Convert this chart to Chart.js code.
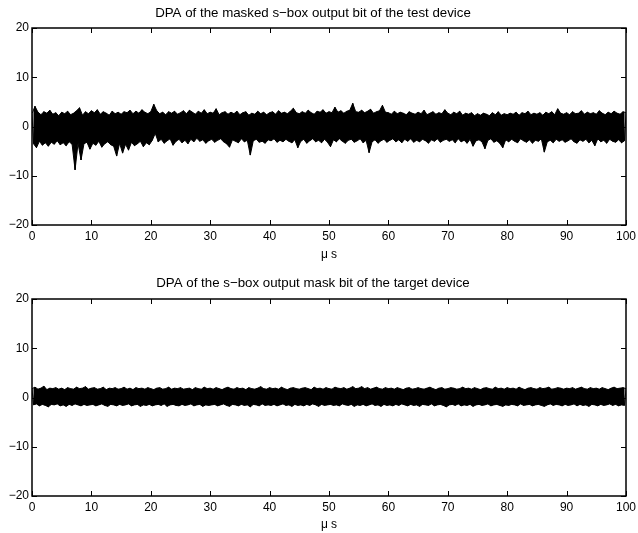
<!DOCTYPE html>
<html>
<head>
<meta charset="utf-8">
<script src="https://cdn.jsdelivr.net/npm/chart.js@4/dist/chart.umd.min.js"></script>
<style>
  html, body { margin: 0; padding: 0; background: #fff; }
  body { width: 638px; height: 533px; position: relative; overflow: hidden; }
  .panel { position: absolute; left: 0; width: 638px; }
</style>
</head>
<body>
<div class="panel" style="top:0;height:266px"><canvas id="top" width="638" height="266"></canvas></div>
<div class="panel" style="top:266px;height:267px"><canvas id="bottom" width="638" height="267"></canvas></div>
<script>
// Sampling step of the envelope readings (µs)
const sampleStep = 0.5;

const timeTicks = [0, 10, 20, 30, 40, 50, 60, 70, 80, 90, 100];
const ampTicks = [-20, -10, 0, 10, 20];

const titleTop = 'DPA of the masked s\u2212box output bit of the test device';
const titleBottom = 'DPA of the s\u2212box output mask bit of the target device';
const xLabel = '\u03bc s';

// Test device: positive and negative peaks of the DPA trace, every 0.5 µs
const testPeaksHigh = [
  2.6, 4.1, 2.9, 2.4, 3.0, 2.7, 3.3, 2.5, 2.8, 2.2,
  2.9, 2.6, 3.1, 2.4, 2.7, 3.2, 3.8, 2.3, 3.0, 2.6,
  3.2, 2.8, 3.4, 2.5, 3.0, 2.7, 2.3, 3.1, 2.6, 2.9,
  2.5, 3.0, 2.8, 3.3, 2.6, 3.1, 2.7, 3.4, 2.9, 2.6,
  3.0, 4.5, 3.2, 2.6, 2.9, 2.4, 3.0, 2.7, 3.1, 2.5,
  2.8, 3.2, 2.6, 3.3, 2.9, 2.5, 3.1, 2.7, 3.4, 2.6,
  2.9, 2.7, 3.6, 2.4, 2.8, 3.0, 2.5, 2.9, 2.6, 3.1,
  2.4, 2.8, 3.0, 2.3, 2.7, 2.5, 3.1, 2.6, 2.9, 2.4,
  2.8, 3.0, 2.5, 3.2, 2.7, 2.9, 2.6, 3.1, 3.7, 2.8,
  2.6, 3.0, 2.7, 3.3, 2.8, 2.5, 3.1, 2.9, 3.4, 2.7,
  3.0, 2.8, 3.9, 2.9, 3.2, 2.7, 3.1, 3.3, 4.7, 3.0,
  2.9, 3.3, 2.8, 3.1, 3.5, 2.7, 3.0, 3.2, 4.3, 2.9,
  2.8, 2.5, 3.1, 2.6, 2.9, 2.7, 2.4, 3.0, 2.7, 2.5,
  2.9, 2.6, 3.3, 2.4, 2.7, 3.0, 2.5, 2.8, 2.6, 3.4,
  2.7, 2.4, 2.9, 2.6, 3.1, 2.3, 2.7, 2.5, 2.8, 2.2,
  2.6, 2.3, 2.7, 2.5, 2.2, 2.8, 2.4, 3.0, 2.3, 2.6,
  2.4, 2.7, 2.5, 2.9, 2.3, 2.8, 2.6, 3.1, 2.4, 2.7,
  2.5, 2.8, 2.3, 2.9, 2.6, 3.0, 2.4, 3.6, 2.7, 2.5,
  2.8, 2.4, 3.0, 2.6, 2.7, 3.2, 2.5, 2.9, 2.6, 2.8,
  2.5, 3.2, 2.7, 2.4, 2.9, 2.6, 3.1, 2.7, 2.5, 3.0,
  2.8
];
const testPeaksLow = [
  -3.5, -4.3, -3.0, -3.8, -3.3, -4.0, -3.2, -3.6, -2.9, -3.7,
  -3.3, -3.9, -3.1, -3.6, -8.8, -3.4, -6.8, -3.5, -3.2, -4.6,
  -3.4, -3.8, -3.0, -4.2, -3.5, -3.1, -3.7, -4.0, -6.0, -3.4,
  -5.4, -3.6, -4.8, -3.2, -3.9, -3.5, -3.0, -4.1, -3.3, -3.7,
  -2.8, -1.4, -3.1, -2.6, -3.4, -2.9, -2.5, -3.8, -3.0, -2.6,
  -3.3, -2.8, -3.5, -2.6, -3.1, -2.4, -3.0, -2.7, -3.4, -2.9,
  -2.6, -3.2, -2.8, -2.5, -3.1, -3.5, -4.2, -2.7, -3.0, -3.3,
  -2.5, -3.1, -2.8, -5.8, -2.9, -2.6, -3.2, -3.0, -3.4, -2.7,
  -2.9, -2.5, -3.2, -2.8, -3.1, -2.6, -3.0, -3.3, -2.7, -4.3,
  -3.0, -2.6, -3.4, -2.9, -2.5, -3.1, -2.8, -3.3, -2.6, -3.2,
  -4.1, -2.7, -3.1, -2.5, -3.0, -3.4, -2.8, -2.6, -3.2, -2.9,
  -2.5, -3.3, -2.8, -5.3, -3.1, -2.7, -3.4, -2.9, -2.6, -3.2,
  -2.8, -2.5, -3.1, -2.7, -3.3, -2.6, -3.0, -2.5, -3.2, -2.8,
  -3.1, -2.6, -2.9, -3.4, -2.7, -3.0, -2.5, -3.2, -2.8, -2.6,
  -3.0, -2.7, -3.3, -2.5, -3.1, -2.8, -3.4, -2.6, -4.0, -2.9,
  -2.7, -3.1, -4.5, -2.8, -2.5, -3.2, -2.9, -3.4, -4.3, -2.7,
  -3.1, -2.6, -3.0, -3.3, -2.5, -2.9, -3.2, -2.7, -3.4, -2.8,
  -3.0, -2.5, -5.2, -3.1, -2.8, -3.3, -2.6, -3.0, -2.7, -3.2,
  -2.9, -2.5, -3.1, -3.4, -2.7, -3.0, -2.6, -3.3, -2.8, -3.9,
  -2.5, -3.1, -2.8, -3.4, -2.6, -3.0, -3.2, -2.7, -3.3, -2.9,
  -3.1
];

// Target device (mask bit): positive and negative peaks, every 0.5 µs
const targetPeaksHigh = [
  1.8, 2.1, 1.7, 1.9, 2.3, 1.6, 1.9, 1.8, 2.0, 1.7,
  1.9, 1.6, 2.0, 1.8, 1.7, 2.1, 1.8, 1.9, 2.2, 1.7,
  1.9, 2.0, 1.7, 1.8, 2.1, 1.6, 1.9, 1.8, 2.0, 1.7,
  1.8, 2.1, 1.7, 1.9, 1.6, 2.0, 1.8, 1.9, 1.7, 2.0,
  1.8, 1.6, 1.9, 2.0, 1.7, 1.8, 2.1, 1.7, 1.9, 1.8,
  2.0, 1.7, 1.8, 1.9, 1.6, 2.0, 1.8, 1.7, 2.1, 1.8,
  1.9, 1.7, 2.0, 1.8, 1.6, 1.9, 2.1, 1.8, 1.7, 2.0,
  1.8, 1.9, 1.6, 2.0, 1.8, 1.7, 1.9, 2.2, 1.8, 1.7,
  2.0, 1.8, 1.9, 1.7, 2.1, 1.8, 1.6, 1.9, 2.0, 1.8,
  1.7, 1.9, 2.0, 1.8, 1.6, 2.1, 1.8, 1.9, 1.7, 2.0,
  1.8, 1.7, 2.1, 1.9, 1.8, 2.0, 1.7, 1.9, 2.2, 1.8,
  1.9, 2.2, 1.8, 2.0, 1.7, 1.9, 2.1, 1.8, 1.7, 2.0,
  1.8, 1.9, 1.7, 2.0, 1.8, 1.6, 1.9, 2.0, 1.7, 1.8,
  2.0, 1.8, 1.7, 1.9, 2.1, 1.8, 1.6, 1.9, 2.0, 1.7,
  1.8, 2.0, 1.9, 1.7, 1.8, 2.1, 1.8, 1.9, 1.7, 2.0,
  1.8, 1.6, 1.9, 2.0, 1.8, 1.7, 2.1, 1.8, 1.9, 1.7,
  2.0, 1.8, 1.9, 1.7, 2.1, 1.8, 1.6, 1.9, 2.0, 1.8,
  1.7, 2.0, 1.8, 1.9, 2.1, 1.7, 1.8, 2.0, 1.9, 1.7,
  1.9, 1.8, 2.0, 1.7, 1.9, 2.1, 1.8, 1.7, 2.0, 1.8,
  1.9, 1.7, 2.0, 1.8, 1.6, 1.9, 2.1, 1.8, 1.9, 2.0,
  1.8
];
const targetPeaksLow = [
  -1.5, -1.3, -1.7, -1.4, -1.6, -1.9, -1.4, -1.5, -1.3, -1.7,
  -1.5, -1.8, -1.4, -1.6, -1.3, -1.5, -1.7, -1.4, -1.6, -1.5,
  -1.4, -1.7, -1.5, -1.3, -1.6, -1.8, -1.4, -1.5, -1.7, -1.4,
  -1.6, -1.5, -1.3, -1.7, -1.5, -1.4, -1.8, -1.5, -1.6, -1.4,
  -1.7, -1.5, -1.4, -1.6, -1.3, -1.8, -1.5, -1.4, -1.6, -1.7,
  -1.4, -1.6, -1.5, -1.3, -1.7, -1.5, -1.4, -1.8, -1.5, -1.6,
  -1.5, -1.4, -1.7, -1.5, -1.3, -1.6, -1.8, -1.4, -1.5, -1.7,
  -1.4, -1.6, -1.5, -1.9, -1.4, -1.5, -1.7, -1.3, -1.6, -1.5,
  -1.6, -1.4, -1.7, -1.5, -1.3, -1.6, -1.5, -1.8, -1.4, -1.6,
  -1.5, -1.7, -1.4, -1.6, -1.3, -1.5, -1.8, -1.4, -1.6, -1.5,
  -1.4, -1.6, -1.5, -1.7, -1.3, -1.5, -1.6, -1.4, -1.8, -1.5,
  -1.6, -1.4, -1.7, -1.5, -1.3, -1.6, -1.5, -1.8, -1.4, -1.6,
  -1.5, -1.7, -1.4, -1.6, -1.3, -1.5, -1.7, -1.4, -1.6, -1.5,
  -1.8, -1.4, -1.5, -1.6, -1.3, -1.7, -1.5, -1.4, -1.6, -1.9,
  -1.5, -1.4, -1.6, -1.3, -1.7, -1.5, -1.6, -1.4, -1.8, -1.5,
  -1.4, -1.6, -1.5, -1.3, -1.7, -1.5, -1.4, -1.6, -1.8, -1.5,
  -1.6, -1.4, -1.5, -1.7, -1.3, -1.6, -1.5, -1.4, -1.7, -1.5,
  -1.4, -1.6, -1.8, -1.5, -1.3, -1.6, -1.4, -1.5, -1.7, -1.4,
  -1.6, -1.5, -1.3, -1.7, -1.4, -1.6, -1.5, -1.8, -1.4, -1.5,
  -1.7, -1.4, -1.6, -1.5, -1.3, -1.6, -1.4, -1.7, -1.5, -1.6,
  -1.5
];

// Peak series placed on the time axis; negative peaks sit half a step later
function peakPoints(values, offset) {
  const pts = [];
  values.forEach((v, i) => {
    const t = i * sampleStep + offset;
    if (t <= 100) pts.push({ x: t, y: v });
  });
  return pts;
}

// The trace swings between its positive and negative peaks
function traceFromPeaks(high, low) {
  const pts = [];
  high.forEach((v, i) => {
    const t = i * sampleStep;
    pts.push({ x: t, y: v });
    const tLow = t + sampleStep / 2;
    if (i < low.length && tLow <= 100) pts.push({ x: tLow, y: low[i] });
  });
  return pts;
}

const FONT_FAMILY = '"Liberation Sans", Arial, Helvetica, sans-serif';
const FONT = { family: FONT_FAMILY, size: 12, weight: 'normal' };
const TITLE_FONT = { family: FONT_FAMILY, size: 13.3, weight: 'normal' };

function fmtTick(v) {
  return v < 0 ? '\u2212' + Math.abs(v) : String(v);
}

// MATLAB-style box with inward ticks on all four sides
const boxTicks = {
  id: 'boxTicks',
  afterDatasetsDraw(chart) {
    const { ctx, chartArea: a, scales } = chart;
    const len = 5;
    ctx.save();
    ctx.strokeStyle = '#000';
    ctx.lineWidth = 1;
    ctx.beginPath();
    scales.x.ticks.forEach(t => {
      const px = Math.round(scales.x.getPixelForValue(t.value)) + 0.5;
      ctx.moveTo(px, a.bottom); ctx.lineTo(px, a.bottom - len);
      ctx.moveTo(px, a.top); ctx.lineTo(px, a.top + len);
    });
    scales.y.ticks.forEach(t => {
      const py = Math.round(scales.y.getPixelForValue(t.value)) + 0.5;
      ctx.moveTo(a.left, py); ctx.lineTo(a.left + len, py);
      ctx.moveTo(a.right, py); ctx.lineTo(a.right - len, py);
    });
    ctx.stroke();
    ctx.lineWidth = 1.5;
    ctx.strokeRect(a.left, a.top, a.right - a.left, a.bottom - a.top);
    ctx.restore();
  }
};

function makePanel(canvasId, title, high, low, lay) {
  return new Chart(document.getElementById(canvasId), {
    type: 'line',
    data: {
      datasets: [
        {
          // positive peaks, band filled down to the negative peaks
          data: peakPoints(high, 0),
          borderColor: '#000',
          borderWidth: 1,
          backgroundColor: '#000',
          pointRadius: 0,
          tension: 0,
          fill: '+1'
        },
        {
          data: peakPoints(low, sampleStep / 2),
          borderColor: '#000',
          borderWidth: 1,
          pointRadius: 0,
          tension: 0,
          fill: false
        },
        {
          data: traceFromPeaks(high, low),
          borderColor: '#000',
          borderWidth: 1,
          pointRadius: 0,
          tension: 0,
          fill: false
        }
      ]
    },
    options: {
      responsive: false,
      animation: false,
      devicePixelRatio: 1,
      parsing: false,
      layout: { padding: { left: 0, right: 12, top: 0, bottom: 0 } },
      plugins: {
        legend: { display: false },
        tooltip: { enabled: false },
        filler: { propagate: false },
        title: {
          display: true,
          text: title,
          color: '#000',
          font: TITLE_FONT,
          padding: { top: lay.titleTop, bottom: lay.titleBottom }
        }
      },
      scales: {
        x: {
          type: 'linear',
          min: 0, max: 100,
          afterBuildTicks: s => { s.ticks = timeTicks.map(v => ({ value: v })); },
          afterFit: s => { s.height = lay.xHeight; s.paddingLeft = 0; s.paddingRight = 0; },
          grid: { display: false, drawTicks: false },
          border: { display: false },
          ticks: { color: '#000', font: FONT, padding: 4.8, maxRotation: 0, autoSkip: false, callback: fmtTick },
          title: { display: true, text: xLabel, color: '#000', font: FONT, padding: { top: 0, bottom: lay.xTitleBottom } }
        },
        y: {
          type: 'linear',
          min: -20, max: 20,
          afterBuildTicks: s => { s.ticks = ampTicks.map(v => ({ value: v })); },
          afterFit: s => { s.width = 32; s.paddingTop = 0; s.paddingBottom = 0; },
          grid: { display: false, drawTicks: false },
          border: { display: false },
          ticks: { color: '#000', font: FONT, padding: 3, autoSkip: false, callback: fmtTick }
        }
      }
    },
    plugins: [boxTicks]
  });
}

makePanel('top', titleTop, testPeaksHigh, testPeaksLow,
  { titleTop: 5, titleBottom: 7.04, xHeight: 41, xTitleBottom: 4 });
makePanel('bottom', titleBottom, targetPeaksHigh, targetPeaksLow,
  { titleTop: 9, titleBottom: 8.04, xHeight: 37, xTitleBottom: 0.8 });
</script>
</body>
</html>
